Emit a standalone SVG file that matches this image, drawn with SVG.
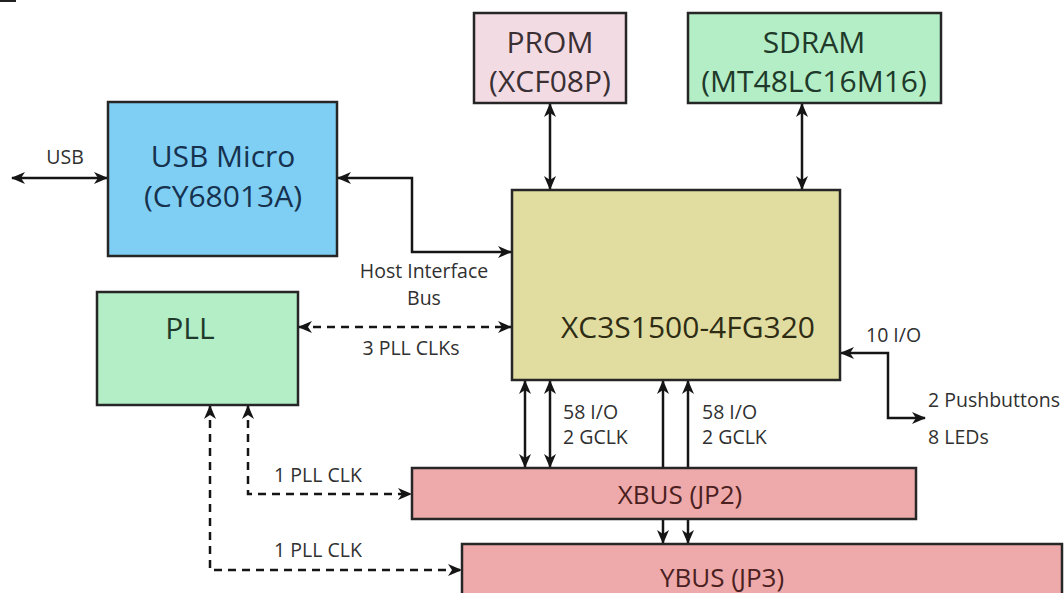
<svg xmlns="http://www.w3.org/2000/svg" width="1064" height="593" viewBox="0 0 1064 593">
<style>
.box{stroke:#262626;stroke-width:2.5}
.big{font-family:"Open Sans","Liberation Sans",sans-serif;font-size:30px;text-anchor:middle}
.lbl{font-family:"Open Sans","Liberation Sans",sans-serif;font-size:19.5px;fill:#303030}
.mid{text-anchor:middle}
.ln{fill:none;stroke:#151515;stroke-width:2.5;marker-start:url(#ah);marker-end:url(#ah)}
.dash{stroke-dasharray:8 6}
</style>
<defs>
<marker id="ah" markerUnits="userSpaceOnUse" markerWidth="14" markerHeight="12" refX="13" refY="6" orient="auto-start-reverse" viewBox="0 0 14 12">
<path d="M0,0 L14,6 L0,12 L4,6 Z" fill="#151515"/>
</marker>
</defs>
<rect width="1064" height="593" fill="#ffffff"/>
<rect x="0" y="0" width="16" height="2" fill="#222"/>
<g id="connectors">
<path class="ln" d="M12,178 H107"/>
<path class="ln" d="M338,178 H412 V252 H511"/>
<path class="ln" d="M550,104 V189"/>
<path class="ln" d="M802,104 V189"/>
<path class="ln dash" d="M299,327 H511"/>
<path class="ln dash" d="M248,406 V494 H411"/>
<path class="ln dash" d="M210,406 V570 H461"/>
<path class="ln" d="M525,381 V467"/>
<path class="ln" d="M550,381 V467"/>
<path class="ln" d="M663,381 V543"/>
<path class="ln" d="M688,381 V543"/>
<path class="ln" d="M841,353 H888 V418 H925"/>
<text class="lbl mid" x="65" y="164">USB</text>
<text class="lbl mid" x="424" y="278">Host Interface</text>
<text class="lbl mid" x="424" y="305">Bus</text>
<text class="lbl mid" x="411" y="355">3 PLL CLKs</text>
<text class="lbl mid" x="318" y="482">1 PLL CLK</text>
<text class="lbl mid" x="318" y="557">1 PLL CLK</text>
<text class="lbl" x="563" y="419">58 I/O</text>
<text class="lbl" x="563" y="444">2 GCLK</text>
<text class="lbl" x="702" y="419">58 I/O</text>
<text class="lbl" x="702" y="444">2 GCLK</text>
<text class="lbl" x="866" y="342">10 I/O</text>
<text class="lbl" x="928" y="407">2 Pushbuttons</text>
<text class="lbl" x="928" y="444">8 LEDs</text>
</g>
<g id="usb">
<rect class="box" x="108" y="102" width="229" height="154" fill="#7fcff4"/>
<text class="big" x="223" y="167" fill="#16324f">USB Micro</text>
<text class="big" x="223" y="207" fill="#16324f">(CY68013A)</text>
</g>
<g id="prom">
<rect class="box" x="474" y="13" width="152" height="90" fill="#f3dbe3"/>
<text class="big" x="550" y="53" fill="#3a3034">PROM</text>
<text class="big" x="550" y="92" fill="#3a3034">(XCF08P)</text>
</g>
<g id="sdram">
<rect class="box" x="688" y="13" width="253" height="90" fill="#b3eec6"/>
<text class="big" x="814" y="53" fill="#1f3a2a">SDRAM</text>
<text class="big" x="814" y="92" fill="#1f3a2a">(MT48LC16M16)</text>
</g>
<g id="fpga">
<rect class="box" x="512" y="190" width="328" height="190" fill="#e1dda0"/>
<text class="big" x="688" y="338" fill="#2e2c14">XC3S1500-4FG320</text>
</g>
<g id="pll">
<rect class="box" x="97" y="292" width="201" height="113" fill="#b3eec6"/>
<text class="big" x="190" y="339" fill="#1f3a2a">PLL</text>
</g>
<g id="xbus">
<rect class="box" x="412" y="468" width="504" height="51" fill="#eeaaab"/>
<text class="big" x="680" y="504" fill="#4a2020" style="font-size:26px">XBUS (JP2)</text>
</g>
<g id="ybus">
<rect class="box" x="462" y="544" width="600" height="60" fill="#eeaaab"/>
<text class="big" x="722" y="587" fill="#4a2020" style="font-size:26px">YBUS (JP3)</text>
</g>
</svg>
